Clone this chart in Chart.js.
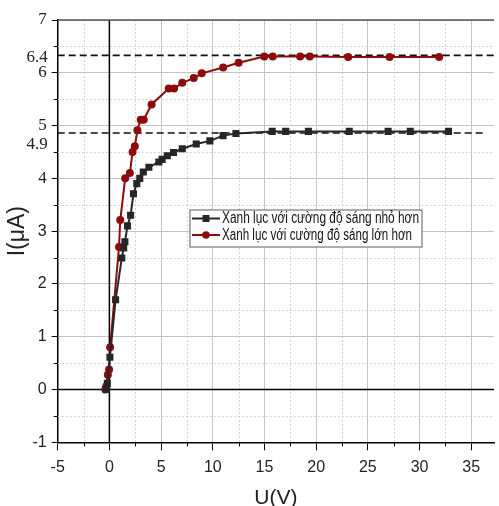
<!DOCTYPE html>
<html>
<head>
<meta charset="utf-8">
<script src="https://cdn.jsdelivr.net/npm/chart.js@4.4.1/dist/chart.umd.min.js"></script>
<style>
  html, body { margin: 0; padding: 0; background: #fff; }
  #wrap { width: 499px; height: 506px; }
</style>
</head>
<body>
<div id="wrap"><canvas id="chart" width="499" height="506"></canvas></div>
<script>
// U (V) / I (µA)
const uLow = [-0.3, -0.2, 0.05, 0.6, 1.2, 1.38, 1.5, 1.75, 2.05, 2.33, 2.65, 2.94, 3.28, 3.82, 4.78, 5.1, 5.6, 6.2, 7.05, 8.4, 9.72, 11.0, 12.24, 15.75, 17.05, 19.25, 23.2, 26.96, 29.1, 32.8];
const iLow = [0, 0.12, 0.61, 1.7, 2.49, 2.68, 2.8, 3.1, 3.3, 3.71, 3.9, 4.0, 4.12, 4.21, 4.31, 4.36, 4.43, 4.49, 4.56, 4.65, 4.71, 4.81, 4.85, 4.89, 4.89, 4.89, 4.89, 4.89, 4.89, 4.89];

const uHigh = [-0.4, -0.3, -0.15, -0.03, 0.07, 0.93, 1.05, 1.53, 1.98, 2.24, 2.46, 2.71, 3.03, 3.32, 4.08, 5.74, 6.25, 7.05, 8.16, 8.93, 11.0, 12.5, 14.98, 15.8, 18.45, 19.38, 23.1, 27.1, 31.9];
const iHigh = [0, 0.06, 0.28, 0.38, 0.8, 2.7, 3.21, 4.0, 4.1, 4.5, 4.61, 4.91, 5.11, 5.11, 5.4, 5.7, 5.7, 5.81, 5.9, 5.99, 6.1, 6.19, 6.31, 6.31, 6.31, 6.31, 6.3, 6.3, 6.3];

const seriesNames = ['Xanh lục với cường độ sáng nhỏ hơn', 'Xanh lục với cường độ sáng lớn hơn'];
const seriesColors = ['#262626', '#8c0c0c'];

const xTicks = [-5, 0, 5, 10, 15, 20, 25, 30, 35];
const yTicks = [-1, 0, 1, 2, 3, 4, 5, 6, 7];
const xMinor = [-2.5, 2.5, 7.5, 12.5, 17.5, 22.5, 27.5, 32.5, 37.5];
const yMinor = [-0.5, 0.5, 1.5, 2.5, 3.5, 4.5, 5.5, 6.5];

// saturation reference lines
const refLevels = [6.33, 4.86];
const refTexts = ['6.4', '4.9'];
const refEnds = [37.2, 36.1];

const SERIF = '"Liberation Serif", "Times New Roman", "DejaVu Serif", serif';
const SANS = '"Liberation Sans", Arial, sans-serif';

const toPoints = (xs, ys) => xs.map((x, i) => ({ x: x, y: ys[i] }));

const decor = {
  id: 'decor',
  beforeDatasetsDraw(chart) {
    const { ctx, chartArea: a, scales: { x, y } } = chart;
    ctx.save();
    // minor grid, dotted
    ctx.strokeStyle = '#d2d2d2';
    ctx.lineWidth = 1;
    ctx.setLineDash([2, 2]);
    xMinor.forEach(v => {
      const px = Math.round(x.getPixelForValue(v)) + 0.5;
      if (px < a.left || px > a.right) return;
      ctx.beginPath(); ctx.moveTo(px, a.top); ctx.lineTo(px, a.bottom); ctx.stroke();
    });
    yMinor.forEach(v => {
      const py = Math.round(y.getPixelForValue(v)) + 0.5;
      ctx.beginPath(); ctx.moveTo(a.left, py); ctx.lineTo(a.right, py); ctx.stroke();
    });
    // zero axes
    ctx.setLineDash([]);
    ctx.strokeStyle = '#000';
    ctx.lineWidth = 1.5;
    const x0 = x.getPixelForValue(0), y0 = y.getPixelForValue(0);
    ctx.beginPath(); ctx.moveTo(x0, a.top); ctx.lineTo(x0, a.bottom); ctx.stroke();
    ctx.beginPath(); ctx.moveTo(a.left, y0); ctx.lineTo(a.right, y0); ctx.stroke();
    // dashed saturation lines
    ctx.setLineDash([7, 4]);
    ctx.strokeStyle = '#111';
    ctx.lineWidth = 1.6;
    refLevels.forEach((v, i) => {
      const py = y.getPixelForValue(v);
      ctx.beginPath(); ctx.moveTo(a.left, py); ctx.lineTo(Math.min(a.right, x.getPixelForValue(refEnds[i])), py); ctx.stroke();
    });
    ctx.restore();
  },
  afterDraw(chart) {
    const { ctx, chartArea: a, scales: { x, y } } = chart;
    ctx.save();
    // top frame line
    ctx.strokeStyle = '#555';
    ctx.lineWidth = 1.5;
    ctx.beginPath(); ctx.moveTo(a.left, a.top); ctx.lineTo(a.right, a.top); ctx.stroke();
    // minor tick marks
    ctx.strokeStyle = '#000';
    ctx.lineWidth = 1;
    xMinor.forEach(v => {
      const px = Math.round(x.getPixelForValue(v)) + 0.5;
      if (px > a.right) return;
      ctx.beginPath(); ctx.moveTo(px, a.bottom); ctx.lineTo(px, a.bottom + 4); ctx.stroke();
    });
    yMinor.forEach(v => {
      const py = Math.round(y.getPixelForValue(v)) + 0.5;
      ctx.beginPath(); ctx.moveTo(a.left - 4, py); ctx.lineTo(a.left, py); ctx.stroke();
    });
    // labels for the saturation lines
    ctx.fillStyle = '#222';
    ctx.font = '17px ' + SERIF;
    ctx.textAlign = 'right';
    ctx.textBaseline = 'middle';
    const offs = [2, 12];
    refLevels.forEach((v, i) => {
      ctx.fillText(refTexts[i], a.left - 10, y.getPixelForValue(v) + offs[i]);
    });
    // legend box
    const bx = 190, by = 210, bw = 232, bh = 37;
    ctx.fillStyle = '#fff';
    ctx.fillRect(bx, by, bw, bh);
    ctx.strokeStyle = '#777';
    ctx.lineWidth = 1.2;
    ctx.strokeRect(bx, by, bw, bh);
    const rows = [by + 8.5, by + 25];
    ctx.font = '16px ' + SANS;
    ctx.textAlign = 'left';
    seriesNames.forEach((name, i) => {
      const ry = rows[i];
      ctx.strokeStyle = seriesColors[i];
      ctx.fillStyle = seriesColors[i];
      ctx.lineWidth = 2;
      ctx.beginPath(); ctx.moveTo(bx + 2, ry); ctx.lineTo(bx + 30, ry); ctx.stroke();
      if (i === 0) {
        ctx.fillRect(bx + 12.5, ry - 3.5, 7, 7);
      } else {
        ctx.beginPath(); ctx.arc(bx + 16, ry, 3.8, 0, Math.PI * 2); ctx.fill();
      }
      ctx.fillStyle = '#111';
      const w = ctx.measureText(name).width;
      ctx.save();
      ctx.translate(bx + 32, ry + 0.5);
      ctx.scale((i === 0 ? 197 : 190) / w, 1);
      ctx.fillText(name, 0, 0);
      ctx.restore();
    });
    ctx.restore();
  }
};

new Chart(document.getElementById('chart'), {
  type: 'line',
  data: {
    datasets: [
      {
        label: seriesNames[0],
        data: toPoints(uLow, iLow),
        borderColor: seriesColors[0],
        backgroundColor: seriesColors[0],
        borderWidth: 2,
        pointStyle: 'rect',
        pointRadius: 5,
        pointBorderWidth: 0,
        tension: 0
      },
      {
        label: seriesNames[1],
        data: toPoints(uHigh, iHigh),
        borderColor: seriesColors[1],
        backgroundColor: seriesColors[1],
        borderWidth: 2,
        pointStyle: 'circle',
        pointRadius: 4,
        pointBorderWidth: 0,
        tension: 0
      }
    ]
  },
  options: {
    responsive: false,
    animation: false,
    layout: { padding: { top: 20, right: 0, left: 0, bottom: 0 } },
    plugins: {
      legend: { display: false },
      tooltip: { enabled: false }
    },
    scales: {
      x: {
        type: 'linear',
        min: -5,
        max: 37.2,
        afterBuildTicks: s => { s.ticks = xTicks.map(v => ({ value: v })); },
        afterFit: s => { s.height = 63.7; },
        ticks: {
          color: '#222',
          padding: 8,
          maxRotation: 0,
          font: { family: SANS, size: 16 }
        },
        grid: { color: '#c4c4c4', lineWidth: 1, tickColor: '#000', tickLength: 8 },
        border: { color: '#000', width: 1.5 },
        title: {
          display: true,
          text: 'U(V)',
          color: '#222',
          font: { family: SANS, size: 21, lineHeight: 0.75 },
          padding: { top: 0, bottom: 0 }
        }
      },
      y: {
        type: 'linear',
        min: -1,
        max: 7,
        afterBuildTicks: s => { s.ticks = yTicks.map(v => ({ value: v })); },
        afterFit: s => { s.width = 57.7; },
        ticks: {
          color: '#222',
          padding: 5,
          font: c => ({
            family: c.tick && c.tick.value >= 4 ? SERIF : SANS,
            size: c.tick && c.tick.value >= 4 ? 17 : 16
          })
        },
        grid: { color: '#c4c4c4', lineWidth: 1, tickColor: '#000', tickLength: 6 },
        border: { color: '#000', width: 1.5 },
        title: {
          display: true,
          text: 'I(μA)',
          color: '#222',
          font: { family: SANS, size: 23, lineHeight: 1.2 },
          padding: { top: 4, bottom: 0 }
        }
      }
    }
  },
  plugins: [decor]
});
</script>
</body>
</html>
